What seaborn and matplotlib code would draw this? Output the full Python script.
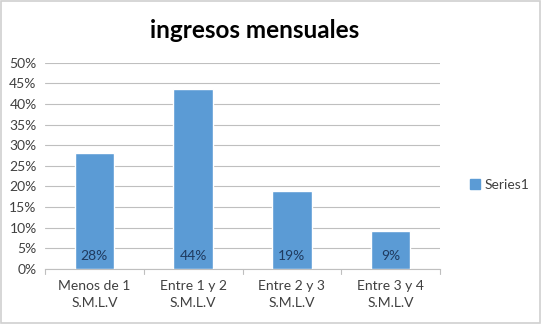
import matplotlib
matplotlib.use("Agg")
import matplotlib.pyplot as plt
import matplotlib.patches as mpatches
import matplotlib.ticker as mticker
import seaborn as sns
import pandas as pd

# data
categorias = ["Menos de 1\nS.M.L.V", "Entre 1 y 2\nS.M.L.V", "Entre 2 y 3\nS.M.L.V", "Entre 3 y 4\nS.M.L.V"]
valores = [0.281, 0.437, 0.190, 0.093]
etiquetas = ["28%", "44%", "19%", "9%"]
serie = "Series1"
titulo = "ingresos mensuales"

sns.set_style("white")
plt.rcParams['font.family'] = ['Lato', 'DejaVu Sans']

df = pd.DataFrame({"cat": categorias, "val": valores})

fig = plt.figure(figsize=(5.42, 3.24), dpi=100)
ax = fig.add_axes([0.083, 0.170, 0.729, 0.636])

color = "#5B9BD5"
sns.barplot(data=df, x="cat", y="val", color=color, width=0.4, saturation=1, ax=ax, zorder=3)

for i, lab in enumerate(etiquetas):
    ax.text(i, 0.031, lab, ha="center", va="center", fontsize=10, color="#1F3A5F", zorder=4)

ax.set_ylim(0, 0.5)
ax.set_yticks([i * 0.05 for i in range(11)])
ax.yaxis.set_major_formatter(mticker.FuncFormatter(lambda v, p: "{:.0f}%".format(v * 100)))
ax.grid(axis="y", color="#BFBFBF", linewidth=0.8, zorder=0)
ax.set_xlim(-0.5, 3.5)
ax.set_xlabel("")
ax.set_ylabel("")
ax.tick_params(axis="both", labelsize=10, colors="#404040", length=0)
ax.tick_params(axis="y", pad=6)
ax.tick_params(axis="x", pad=8)
for t in ax.get_xticklabels():
    t.set_linespacing(1.45)
for s in ["top", "right", "left"]:
    ax.spines[s].set_visible(False)
ax.spines["bottom"].set_color("#BFBFBF")
# category separators on the x axis
for xb in [-0.5, 0.5, 1.5, 2.5, 3.5]:
    ax.plot([xb, xb], [0, -0.012], color="#BFBFBF", linewidth=0.8, clip_on=False)

fig.text(0.47, 0.905, titulo, ha="center", va="center", fontsize=17.5, fontweight="bold", color="black")

patch = mpatches.Patch(color=color, label=serie)
fig.legend(handles=[patch], loc="center left", bbox_to_anchor=(0.845, 0.43), frameon=False,
           fontsize=10, handlelength=0.7, handleheight=0.7, handletextpad=0.3, labelcolor="#404040")

# outer border
fig.patches.append(mpatches.Rectangle((0.002, 0.004), 0.995, 0.992, transform=fig.transFigure,
                                      fill=False, edgecolor="#D0D0D0", linewidth=1.2))

fig.savefig("out.png", dpi=100)
